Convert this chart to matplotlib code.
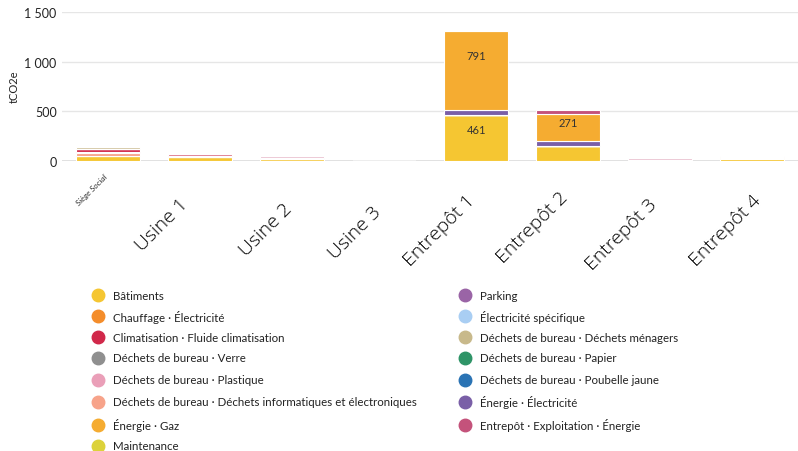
import numpy as np
import matplotlib.pyplot as plt
from matplotlib.lines import Line2D
from matplotlib.transforms import ScaledTranslation, blended_transform_factory

plt.rcParams['font.family'] = ['Lato', 'DejaVu Sans']

sites = ['Siège Social', 'Usine 1', 'Usine 2', 'Usine 3',
         'Entrepôt 1', 'Entrepôt 2', 'Entrepôt 3', 'Entrepôt 4']

# emissions per poste, tCO2e, one value per site
batiments = [55, 45, 25, 4, 461, 155, 14, 22]
chauffage_elec = [0, 0, 0, 0, 0, 0, 0, 0]
climatisation = [25, 20, 0, 0, 0, 0, 0, 0]
dechets_verre = [0, 0, 0, 0, 0, 0, 0, 0]
dechets_plastique = [15, 10, 14, 0, 0, 0, 14, 14]
dechets_info = [25, 0, 8, 0, 0, 0, 0, 8]
energie_gaz = [0, 0, 0, 0, 791, 271, 0, 0]
maintenance = [0, 0, 0, 0, 0, 0, 0, 6]
parking = [0, 0, 0, 0, 0, 0, 0, 0]
elec_specifique = [0, 0, 0, 0, 0, 0, 0, 0]
dechets_menagers = [22, 0, 0, 0, 0, 0, 0, 0]
dechets_papier = [0, 0, 0, 0, 0, 0, 0, 0]
dechets_poubelle = [0, 0, 0, 0, 0, 0, 0, 0]
energie_elec = [0, 0, 0, 0, 52, 45, 0, 0]
entrepot_energie = [0, 0, 0, 0, 0, 40, 0, 0]

series = [
    ('Bâtiments', batiments, '#F5C632'),
    ('Chauffage · Électricité', chauffage_elec, '#F48D2B'),
    ('Climatisation · Fluide climatisation', climatisation, '#D1284A'),
    ('Déchets de bureau · Verre', dechets_verre, '#8F8F8F'),
    ('Déchets de bureau · Plastique', dechets_plastique, '#EA9FB8'),
    ('Déchets de bureau · Déchets informatiques et électroniques', dechets_info, '#F7A38A'),
    ('Énergie · Gaz', energie_gaz, '#F5AC31'),
    ('Maintenance', maintenance, '#DCD23A'),
    ('Parking', parking, '#9A64A6'),
    ('Électricité spécifique', elec_specifique, '#A9CEF3'),
    ('Déchets de bureau · Déchets ménagers', dechets_menagers, '#C8B98B'),
    ('Déchets de bureau · Papier', dechets_papier, '#2E9467'),
    ('Déchets de bureau · Poubelle jaune', dechets_poubelle, '#2A73B4'),
    ('Énergie · Électricité', energie_elec, '#7A5FA7'),
    ('Entrepôt · Exploitation · Énergie', entrepot_energie, '#C4527B'),
]

# order in which the postes are stacked, bottom first
stack_order = [0, 7, 1, 5, 4, 2, 3, 11, 12, 10, 9, 8, 13, 6, 14]

fig = plt.figure(figsize=(7.98, 4.52), dpi=100)
ax = fig.add_axes([0.078, 0.6416, 0.922, 0.3296])

x = np.arange(len(sites))
bottom = np.zeros(len(sites))
for i in stack_order:
    name, vals, color = series[i]
    vals = np.array(vals, dtype=float)
    ax.bar(x, vals, 0.69, bottom=bottom, color=color, edgecolor='white',
           linewidth=0.8, zorder=3)
    for xi, v, b in zip(x, vals, bottom):
        if v >= 200:
            ax.text(xi, b + 0.69 * v, f'{v:.0f}', ha='center', va='center',
                    fontsize=8, color='#333333', zorder=4)
    bottom += vals

ax.set_xlim(-0.5, len(sites) - 0.5)
ax.set_ylim(0, 1500)
ax.set_yticks([0, 500, 1000, 1500])
ax.set_yticklabels(['0', '500', '1 000', '1 500'])
ax.tick_params(axis='y', length=0, pad=4, labelsize=9, labelcolor='#222222')
ax.tick_params(axis='x', length=0, labelbottom=False)
ax.grid(axis='y', color='#E6E6E6', linewidth=1, zorder=0)
for s in ax.spines.values():
    s.set_visible(False)
ax.axhline(0, color='#DDDDDD', linewidth=1.2, zorder=2)
fig.text(14 / 798, 1 - 87 / 452, 'tCO2e', rotation=90, ha='center',
         va='center', fontsize=8, color='#222222')

# site names under the bars
trans = blended_transform_factory(ax.transData, ax.transAxes)
label_shift = [(-5, -11), (-21, -33), (-9, -38), (-12, -41),
               (-10, -30), (-9, -27), (-12, -34), (0, -30)]
for xi, name, (dx, dy) in zip(x, sites, label_shift):
    off = ScaledTranslation(dx / 100, dy / 100, fig.dpi_scale_trans)
    if xi == 0:
        ax.text(xi, 0, name, transform=trans + off, rotation=45,
                rotation_mode='anchor', ha='right', va='top',
                fontsize=6, style='italic', color='#333333')
    else:
        ax.text(xi, 0, name, transform=trans + off, rotation=45,
                rotation_mode='anchor', ha='right', va='top',
                fontsize=14, family=['Open Sans', 'DejaVu Sans'],
                fontweight='light', color='#000000')

# legend, two columns
col_x = [0.123, 0.583]
row_y = [296, 317, 338, 359, 381, 403, 426, 447]
for k, (name, vals, color) in enumerate(series):
    col = 0 if k < 8 else 1
    row = k if k < 8 else k - 8
    yf = 1 - row_y[row] / 452
    fig.add_artist(Line2D([col_x[col]], [yf], marker='o', markersize=9,
                          color=color, linestyle='none',
                          transform=fig.transFigure))
    fig.text(col_x[col] + 0.019, yf, name, fontsize=8.3, va='center',
             color='#222222')

fig.savefig('out.png', dpi=100)
